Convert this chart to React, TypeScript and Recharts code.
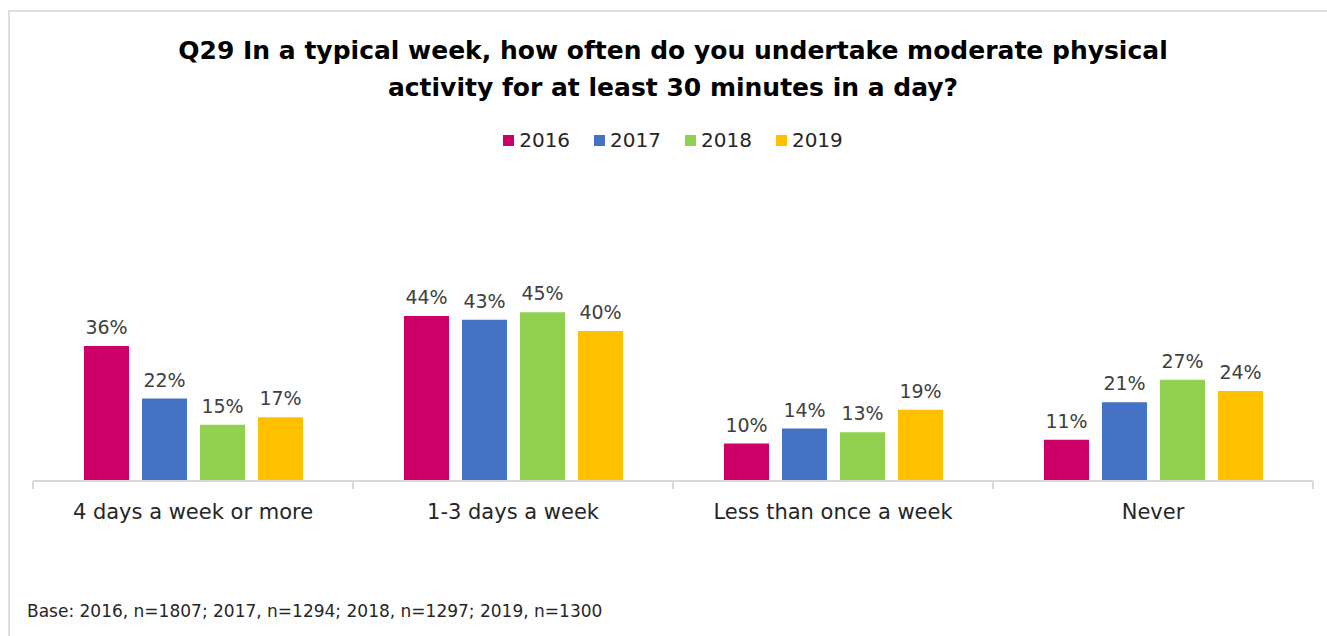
import React from 'react';
import { BarChart, Bar, XAxis, YAxis, LabelList } from 'recharts';

const categories = ['4 days a week or more', '1-3 days a week', 'Less than once a week', 'Never'];
const years = ['2016', '2017', '2018', '2019'];
const values2016 = [36, 44, 10, 11];
const values2017 = [22, 43, 14, 21];
const values2018 = [15, 45, 13, 27];
const values2019 = [17, 40, 19, 24];
const yearColors = ['#CC0066', '#4472C4', '#92D050', '#FFC000'];

const titleLines = [
  'Q29 In a typical week, how often do you undertake moderate physical',
  'activity for at least 30 minutes in a day?',
];
const baseNote = 'Base: 2016, n=1807; 2017, n=1294; 2018, n=1297; 2019, n=1300';

const seriesValues = [values2016, values2017, values2018, values2019];
const data = categories.map((name, i) => {
  const row: Record<string, string | number> = { name };
  years.forEach((y, j) => {
    row[y] = seriesValues[j][i];
  });
  return row;
});

const FONT = '"DejaVu Sans", sans-serif';
const CHART_W = 1327;
const CHART_H = 636;
const PLOT_LEFT = 33;
const PLOT_RIGHT = 1313;
const AXIS_Y = 481;
const AXIS_H = 40;
const BAND = (PLOT_RIGHT - PLOT_LEFT) / categories.length;

const CategoryTick = (props: any) => {
  const { x, y, payload, index } = props;
  const isLast = index === categories.length - 1;
  return (
    <g>
      <line x1={x - BAND / 2} y1={y} x2={x - BAND / 2} y2={y + 8} stroke="#d9d9d9" strokeWidth={2} />
      {isLast && <line x1={x + BAND / 2} y1={y} x2={x + BAND / 2} y2={y + 8} stroke="#d9d9d9" strokeWidth={2} />}
      <text x={x} y={y + 38} textAnchor="middle" fontSize={21} fill="#262626" fontFamily={FONT}>
        {payload.value}
      </text>
    </g>
  );
};

export default function App() {
  return (
    <div style={{ position: 'fixed', left: 0, top: 0, width: CHART_W, height: CHART_H, background: '#fff', overflow: 'hidden' }}>
      <div style={{ position: 'absolute', left: 8, top: 10, right: -4, bottom: -4, borderTop: '2px solid #dedede', borderLeft: '2px solid #dedede' }} />
      <div style={{ position: 'absolute', left: 0, top: 32, width: 1346, textAlign: 'center', fontFamily: FONT, fontWeight: 'bold', fontSize: 25, lineHeight: '37px', color: '#000' }}>
        {titleLines.map((l) => (
          <div key={l}>{l}</div>
        ))}
      </div>
      {/* legend */}
      <div style={{ position: 'absolute', left: 0, top: 128, width: 1346, display: 'flex', justifyContent: 'center', gap: 24, fontFamily: FONT, fontSize: 20, color: '#262626' }}>
        {years.map((y, i) => (
          <div key={y} style={{ display: 'flex', alignItems: 'center' }}>
            <span style={{ width: 11, height: 11, background: yearColors[i], display: 'inline-block', marginRight: 5 }} />
            <span>{y}</span>
          </div>
        ))}
      </div>
      <div style={{ position: 'absolute', left: 0, top: 0 }}>
        <BarChart
          width={CHART_W}
          height={CHART_H}
          data={data}
          margin={{ top: 256, right: CHART_W - PLOT_RIGHT, bottom: CHART_H - AXIS_Y - AXIS_H, left: PLOT_LEFT }}
          barGap={13}
          barSize={45}
        >
          <XAxis
            dataKey="name"
            axisLine={{ stroke: '#d9d9d9', strokeWidth: 2 }}
            tickLine={false}
            tickSize={0}
            tickMargin={0}
            tick={<CategoryTick />}
            interval={0}
            height={AXIS_H}
          />
          <YAxis hide domain={[0, 60]} />
          {years.map((y, i) => (
            <Bar key={y} dataKey={y} fill={yearColors[i]} isAnimationActive={false}>
              <LabelList
                dataKey={y}
                position="top"
                offset={12}
                formatter={(v: any) => `${v}%`}
                style={{ fontSize: 19, fill: '#404040', fontFamily: FONT }}
              />
            </Bar>
          ))}
        </BarChart>
      </div>
      <div style={{ position: 'absolute', left: 27, top: 601, fontFamily: FONT, fontSize: 17, color: '#262626' }}>{baseNote}</div>
    </div>
  );
}
